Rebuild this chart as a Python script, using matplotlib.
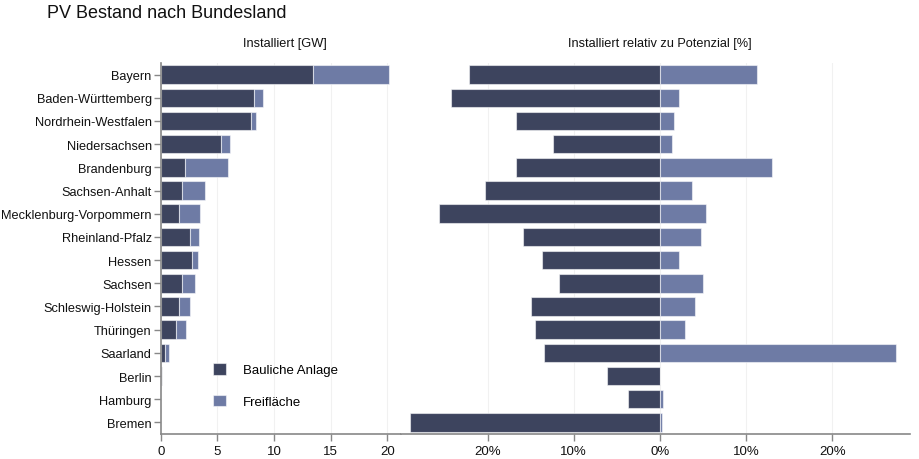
import matplotlib
matplotlib.use("Agg")
import matplotlib.pyplot as plt
import numpy as np

plt.rcParams['font.family'] = ['Liberation Sans', 'DejaVu Sans']

states = ["Bayern", "Baden-Württemberg", "Nordrhein-Westfalen", "Niedersachsen",
          "Brandenburg", "Sachsen-Anhalt", "Mecklenburg-Vorpommern", "Rheinland-Pfalz",
          "Hessen", "Sachsen", "Schleswig-Holstein", "Thüringen", "Saarland",
          "Berlin", "Hamburg", "Bremen"]
# installed capacity [GW]
gw_bau = [13.4, 8.25, 8.0, 5.35, 2.1, 1.9, 1.6, 2.6, 2.8, 1.9, 1.6, 1.35, 0.4, 0.15, 0.05, 0.05]
gw_frei = [6.7, 0.8, 0.45, 0.75, 3.85, 2.0, 1.9, 0.8, 0.5, 1.1, 1.0, 0.85, 0.3, 0.0, 0.0, 0.0]
# installed relative to potential [%]
pct_bau = [22.2, 24.2, 16.7, 12.4, 16.7, 20.3, 25.6, 15.9, 13.7, 11.7, 15.0, 14.5, 13.5, 6.2, 3.7, 29.0]
pct_frei = [11.3, 2.2, 1.6, 1.35, 13.0, 3.7, 5.3, 4.75, 2.2, 4.95, 4.0, 2.85, 27.4, 0.0, 0.4, 0.25]

left_ticks = [0, 5, 10, 15, 20]
right_ticks = [-20, -10, 0, 10, 20]
right_tick_labels = ["20%", "10%", "0%", "10%", "20%"]

c_bau = "#3d445e"
c_frei = "#6e7ba5"
edge = (1, 1, 1, 0.55)
axis_col = "#888888"
grid_col = "#f1f1f1"

fig = plt.figure(figsize=(9.2, 4.6), dpi=100)
axL = fig.add_axes([160.7/920, 1-435/460, 240.3/920, 371/460])
axR = fig.add_axes([401/920, 1-435/460, 509/920, 371/460])

y = np.arange(len(states))
h = 0.8

axL.barh(y, gw_bau, height=h, color=c_bau, edgecolor=edge, linewidth=0.8, label="Bauliche Anlage", zorder=2)
axL.barh(y, gw_frei, left=gw_bau, height=h, color=c_frei, edgecolor=edge, linewidth=0.8, label="Freifläche", zorder=2)
axR.barh(y, [-v for v in pct_bau], height=h, color=c_bau, edgecolor=edge, linewidth=0.8, zorder=2)
axR.barh(y, pct_frei, height=h, color=c_frei, edgecolor=edge, linewidth=0.8, zorder=2)

for ax in (axL, axR):
    ax.set_ylim(len(states)-0.5, -0.5)
    for s in ("top", "right"):
        ax.spines[s].set_visible(False)
    ax.spines["bottom"].set_color(axis_col)
    ax.spines["bottom"].set_linewidth(1.2)
    ax.tick_params(axis="x", colors=axis_col, labelcolor="#111111", labelsize=9.5, length=5, width=1, pad=3)
    ax.grid(axis="x", color=grid_col, linewidth=0.8, zorder=0)
    ax.set_axisbelow(True)

axL.set_xlim(0, 21.2)
axL.set_xticks(left_ticks)
axL.set_yticks(y)
axL.set_yticklabels(states)
axL.spines["left"].set_color(axis_col)
axL.spines["left"].set_linewidth(1.2)
axL.tick_params(axis="y", colors=axis_col, labelcolor="#111111", labelsize=9.2, length=5, width=1, pad=1.5)

axR.set_xlim(-30.05, 29.0)
axR.set_xticks(right_ticks)
axR.set_xticklabels(right_tick_labels)
axR.set_yticks([])
axR.spines["left"].set_visible(False)

fig.text(47/920, 1-13/460, "PV Bestand nach Bundesland", fontsize=13, va="center", ha="left", color="#111111")
fig.text(285/920, 1-44/460, "Installiert [GW]", fontsize=9.2, va="center", ha="center", color="#111111")
fig.text(660/920, 1-44/460, "Installiert relativ zu Potenzial [%]", fontsize=9.2, va="center", ha="center", color="#111111")

leg = axL.legend(loc="upper left", bbox_to_anchor=(0.197, 0.205), frameon=False, fontsize=9.5,
                 handlelength=0.95, handleheight=0.95, handletextpad=1.3, labelspacing=1.4,
                 borderaxespad=0)

fig.savefig("out.png", dpi=100)
